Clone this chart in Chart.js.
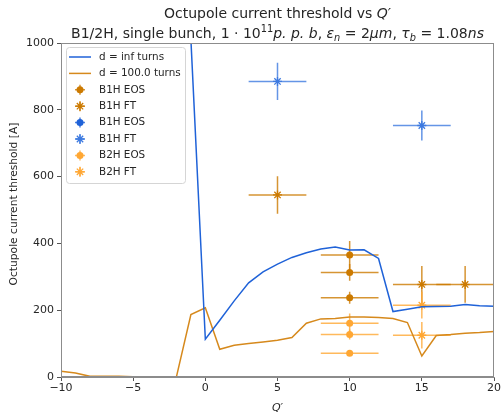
<!DOCTYPE html>
<html>
<head>
<meta charset="utf-8">
<script src="https://cdn.jsdelivr.net/npm/chart.js@4"></script>
<style>
  html, body { margin: 0; padding: 0; background: #fff; }
  #wrap { width: 502px; height: 416px; }
</style>
</head>
<body>
<div id="wrap"><canvas id="myChart" width="502" height="416"></canvas></div>
<script>
// Q' values and thresholds of the two lines
const qInf = [-1, 0, 1, 2, 3, 4, 5, 6, 7, 8, 9, 10, 11, 12, 13, 14, 15, 16, 17, 18, 19, 20];
const thrInf = [1010, 113, 170, 228, 282, 315, 338, 358, 372, 383, 389, 380, 381, 355, 196, 203, 210, 211, 212, 217, 213, 212];

const qD100 = [-10, -9, -8, -7, -6, -5, -4, -3, -2, -1, 0, 1, 2, 3, 4, 5, 6, 7, 8, 9, 10, 11, 12, 13, 14, 15, 16, 17, 18, 19, 20];
const thrD100 = [17, 12, 2, 2, 2, 1, 1, 1, 1, 187, 207, 83, 95, 100, 105, 110, 118, 161, 174, 175, 180, 180, 178, 175, 163, 63, 124, 127, 131, 133, 136];

// measurements with errors
const b1hEosQ = [10, 10, 10];
const b1hEosI = [365, 313, 237];
const b1hEosErrQ = [2, 2, 2];
const b1hEosErrI = [42, 25, 18];

const b1hFtQ = [5, 15, 18];
const b1hFtI = [545, 277, 277];
const b1hFtErrQ = [2, 2, 2];
const b1hFtErrI = [56, 55, 55];

const b1hEosBlueQ = [];
const b1hEosBlueI = [];

const b1hFtBlueQ = [5, 15];
const b1hFtBlueI = [885, 753];
const b1hFtBlueErrQ = [2, 2];
const b1hFtBlueErrI = [56, 45];

const b2hEosQ = [10, 10, 10];
const b2hEosI = [161, 127, 71];
const b2hEosErrQ = [2, 2, 2];
const b2hEosErrI = [29, 15, 8];

const b2hFtQ = [15, 15];
const b2hFtI = [215, 125];
const b2hFtErrQ = [2, 2];
const b2hFtErrI = [40, 40];

const dotQ = [15, 18];
const dotI = [213, 277];

const xTicks = [-10, -5, 0, 5, 10, 15, 20];
const yTicks = [0, 200, 400, 600, 800, 1000];

const FONT = '"DejaVu Sans", sans-serif';
const TXT = '#262626';
const BLUE = '#1f62d8';
const ORANGE_LINE = '#d6891c';
const ORANGE = '#cc7a00';
const LIGHT = '#ffa733';

function pts(xs, ys) {
    return xs.map((x, i) => ({ x: x, y: ys[i] }));
}

function errSet(label, xs, ys, exs, eys, color, style) {
    return {
        label: label,
        type: 'scatter',
        data: pts(xs, ys),
        errQ: exs,
        errI: eys,
        errColor: color,
        backgroundColor: color,
        borderColor: color,
        pointStyle: style,
        pointRadius: style === 'circle' ? 3.5 : 4.5,
        pointBorderWidth: style === 'circle' ? 0 : 1.3,
        showLine: false
    };
}

// error bars, drawn under the markers
const errorBars = {
    id: 'errorBars',
    beforeDatasetsDraw(chart) {
        const ctx = chart.ctx;
        const xs = chart.scales.x, ys = chart.scales.y;
        ctx.save();
        ctx.beginPath();
        ctx.rect(chart.chartArea.left, chart.chartArea.top, chart.chartArea.right - chart.chartArea.left, chart.chartArea.bottom - chart.chartArea.top);
        ctx.clip();
        chart.data.datasets.forEach(ds => {
            if (!ds.errQ) return;
            ctx.strokeStyle = ds.errColor;
            ctx.globalAlpha = 0.8;
            ctx.lineWidth = 1.5;
            ds.data.forEach((p, i) => {
                const cx = xs.getPixelForValue(p.x), cy = ys.getPixelForValue(p.y);
                ctx.beginPath();
                ctx.moveTo(xs.getPixelForValue(p.x - ds.errQ[i]), cy);
                ctx.lineTo(xs.getPixelForValue(p.x + ds.errQ[i]), cy);
                ctx.moveTo(cx, ys.getPixelForValue(p.y - ds.errI[i]));
                ctx.lineTo(cx, ys.getPixelForValue(p.y + ds.errI[i]));
                ctx.stroke();
            });
        });
        ctx.restore();
    }
};

function drawRich(ctx, parts, cx, y, size) {
    let total = 0;
    parts.forEach(p => {
        const s = p.sub || p.sup ? size * 0.7 : size;
        ctx.font = (p.it ? 'italic ' : '') + s + 'px ' + FONT;
        p.w = ctx.measureText(p.t).width;
        total += p.w;
    });
    let x = cx - total / 2;
    ctx.textAlign = 'left';
    ctx.textBaseline = 'alphabetic';
    parts.forEach(p => {
        const s = p.sub || p.sup ? size * 0.7 : size;
        ctx.font = (p.it ? 'italic ' : '') + s + 'px ' + FONT;
        let dy = 0;
        if (p.sup) dy = -size * 0.45;
        if (p.sub) dy = size * 0.22;
        ctx.fillText(p.t, x, y + dy);
        x += p.w;
    });
}

// titles, axis labels, frame and legend
const decor = {
    id: 'decor',
    afterDraw(chart) {
        const ctx = chart.ctx;
        const a = chart.chartArea;
        const mid = (a.left + a.right) / 2;
        ctx.save();
        ctx.fillStyle = TXT;

        drawRich(ctx, [{ t: 'Octupole current threshold vs ' }, { t: 'Q′', it: true }], mid, 18, 14);
        drawRich(ctx, [
            { t: 'B1/2H, single bunch, 1 · 10' }, { t: '11', sup: true },
            { t: 'p. p. b', it: true }, { t: ', ' },
            { t: 'ε', it: true }, { t: 'n', it: true, sub: true }, { t: ' = 2' },
            { t: 'μm', it: true }, { t: ', ' },
            { t: 'τ', it: true }, { t: 'b', it: true, sub: true }, { t: ' = 1.08' },
            { t: 'ns', it: true }
        ], mid, 38, 14);

        drawRich(ctx, [{ t: 'Q′', it: true }], mid, 411, 11);

        ctx.save();
        ctx.translate(17, 204);
        ctx.rotate(-Math.PI / 2);
        ctx.font = '10.7px ' + FONT;
        ctx.textAlign = 'center';
        ctx.textBaseline = 'alphabetic';
        ctx.fillText('Octupole current threshold [A]', 0, 0);
        ctx.restore();

        ctx.strokeStyle = '#8c8c8c';
        ctx.lineWidth = 1;
        ctx.strokeRect(a.left + 0.5, a.top + 0.5, a.right - a.left - 1, a.bottom - a.top - 1);

        // legend box
        const lx = 66, ly = 47, lw = 119, lh = 136;
        ctx.fillStyle = 'rgba(255,255,255,0.85)';
        ctx.strokeStyle = '#d5d5d5';
        ctx.beginPath();
        ctx.roundRect(lx + 0.5, ly + 0.5, lw, lh, 3);
        ctx.fill();
        ctx.stroke();

        const items = chart.data.datasets.filter(d => !d.hideLegend);
        items.forEach((ds, i) => {
            const y = ly + 10 + i * 16.4;
            const hx = 80;
            if (ds.type === 'line') {
                ctx.strokeStyle = ds.borderColor;
                ctx.lineWidth = 1.5;
                ctx.beginPath();
                ctx.moveTo(hx - 11, y);
                ctx.lineTo(hx + 11, y);
                ctx.stroke();
            } else {
                ctx.strokeStyle = ds.errColor;
                ctx.globalAlpha = 0.8;
                ctx.lineWidth = 1.5;
                ctx.beginPath();
                ctx.moveTo(hx - 5, y); ctx.lineTo(hx + 5, y);
                ctx.moveTo(hx, y - 5); ctx.lineTo(hx, y + 5);
                ctx.stroke();
                ctx.globalAlpha = 1;
                ctx.fillStyle = ds.backgroundColor;
                ctx.strokeStyle = ds.borderColor;
                ctx.lineWidth = ds.pointBorderWidth;
                Chart.helpers.drawPoint(ctx, {
                    pointStyle: ds.pointStyle,
                    radius: ds.pointRadius,
                    borderWidth: ds.pointBorderWidth,
                    rotation: 0
                }, hx, y);
            }
            ctx.fillStyle = TXT;
            ctx.font = '10.4px ' + FONT;
            ctx.textAlign = 'left';
            ctx.textBaseline = 'middle';
            ctx.fillText(ds.label, 99, y);
        });
        ctx.restore();
    }
};

const ctx = document.getElementById('myChart').getContext('2d');

new Chart(ctx, {
    type: 'line',
    data: {
        datasets: [
            {
                label: 'd = inf turns',
                type: 'line',
                data: pts(qInf, thrInf),
                borderColor: BLUE,
                backgroundColor: BLUE,
                borderWidth: 1.5,
                pointRadius: 0,
                tension: 0
            },
            {
                label: 'd = 100.0 turns',
                type: 'line',
                data: pts(qD100, thrD100),
                borderColor: ORANGE_LINE,
                backgroundColor: ORANGE_LINE,
                borderWidth: 1.5,
                pointRadius: 0,
                tension: 0
            },
            errSet('B1H EOS', b1hEosQ, b1hEosI, b1hEosErrQ, b1hEosErrI, ORANGE, 'circle'),
            errSet('B1H FT', b1hFtQ, b1hFtI, b1hFtErrQ, b1hFtErrI, ORANGE, 'star'),
            errSet('B1H EOS', b1hEosBlueQ, b1hEosBlueI, [], [], BLUE, 'circle'),
            errSet('B1H FT', b1hFtBlueQ, b1hFtBlueI, b1hFtBlueErrQ, b1hFtBlueErrI, '#3d7ae0', 'star'),
            errSet('B2H EOS', b2hEosQ, b2hEosI, b2hEosErrQ, b2hEosErrI, LIGHT, 'circle'),
            errSet('B2H FT', b2hFtQ, b2hFtI, b2hFtErrQ, b2hFtErrI, LIGHT, 'star'),
            {
                label: 'dots',
                type: 'scatter',
                hideLegend: true,
                data: pts(dotQ, dotI),
                backgroundColor: '#000',
                borderColor: '#000',
                pointStyle: 'rect',
                pointRadius: 1.8,
                pointBorderWidth: 0
            }
        ]
    },
    options: {
        responsive: false,
        animation: false,
        layout: { padding: { left: 0, right: 6, top: 43, bottom: 0 } },
        plugins: {
            legend: { display: false },
            title: { display: false },
            tooltip: { enabled: false }
        },
        scales: {
            x: {
                type: 'linear',
                min: -10,
                max: 20,
                afterFit(scale) { scale.height = 39; },
                afterBuildTicks(scale) { scale.ticks = xTicks.map(v => ({ value: v })); },
                ticks: {
                    color: TXT,
                    font: { family: FONT, size: 11 },
                    padding: 1,
                    maxRotation: 0,
                    callback: v => String(v).replace('-', '\u2212')
                },
                grid: { drawOnChartArea: false, tickLength: 4, color: '#555', tickWidth: 1 },
                border: { color: '#8c8c8c' }
            },
            y: {
                min: 0,
                max: 1000,
                afterFit(scale) { scale.width = 61; },
                afterBuildTicks(scale) { scale.ticks = yTicks.map(v => ({ value: v })); },
                ticks: {
                    color: TXT,
                    font: { family: FONT, size: 11 },
                    padding: 3,
                    callback: v => String(v)
                },
                grid: { drawOnChartArea: false, tickLength: 4, color: '#555', tickWidth: 1 },
                border: { color: '#8c8c8c' }
            }
        }
    },
    plugins: [errorBars, decor]
});
</script>
</body>
</html>
